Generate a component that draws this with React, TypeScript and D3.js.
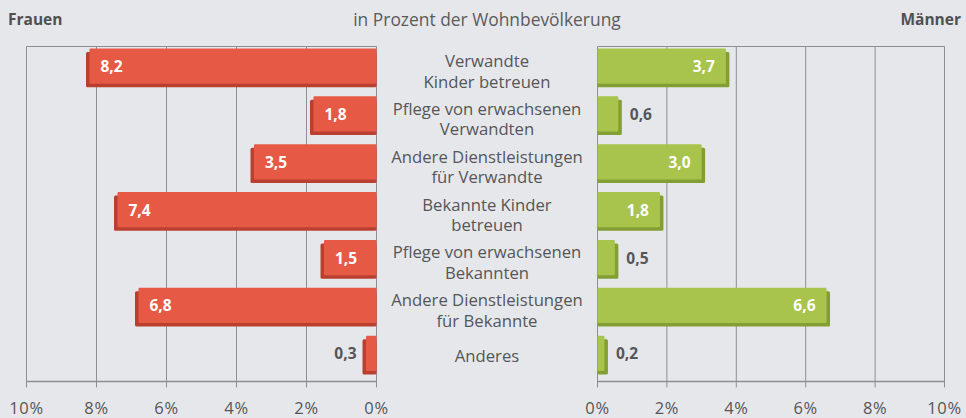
import React from "react";
import * as d3 from "d3";

const categories: string[][] = [
  ["Verwandte", "Kinder betreuen"],
  ["Pflege von erwachsenen", "Verwandten"],
  ["Andere Dienstleistungen", "für Verwandte"],
  ["Bekannte Kinder", "betreuen"],
  ["Pflege von erwachsenen", "Bekannten"],
  ["Andere Dienstleistungen", "für Bekannte"],
  ["Anderes"],
];
const frauen: number[] = [8.2, 1.8, 3.5, 7.4, 1.5, 6.8, 0.3];
const maenner: number[] = [3.7, 0.6, 3.0, 1.8, 0.5, 6.6, 0.2];
const ticks: number[] = [0, 2, 4, 6, 8, 10];
const title = "in Prozent der Wohnbevölkerung";
const leftTitle = "Frauen";
const rightTitle = "Männer";

const W = 966;
const H = 418;
const FONT = "'Open Sans', 'Noto Sans', sans-serif";
const TOP = 46.5;
const BOTTOM = 381.5;
const fmt = (v: number) => v.toFixed(1).replace(".", ",");

export default function App() {
  const xL = d3.scaleLinear().domain([0, 10]).range([376.5, 26.5]);
  const xR = d3.scaleLinear().domain([0, 10]).range([597.5, 944.5]);
  const y = d3
    .scaleBand<number>()
    .domain(d3.range(categories.length))
    .range([TOP, BOTTOM])
    .padding(0);
  const bw = y.bandwidth();
  const barTop = 2;
  const barH = bw * 0.81;
  const depth = 3.5;
  const grid = "#8e8f92";
  const red = "#e65a45";
  const redDark = "#b9402f";
  const green = "#a8c44c";
  const greenDark = "#839f34";
  const labelColor = "#555658";

  return (
    <svg
      width={W}
      height={H}
      style={{ position: "absolute", left: 0, top: 0, background: "#e6e7eb" }}
      fontFamily={FONT}
    >
      <rect x={0} y={0} width={W} height={H} fill="#e6e7eb" />
      {/* headers */}
      <text x={8} y={25} fontSize={15.5} fontWeight={700} fill="#4f5052">
        {leftTitle}
      </text>
      <text x={487} y={26} fontSize={17.4} fill="#5a5b5d" textAnchor="middle">
        {title}
      </text>
      <text x={961} y={25} fontSize={15.5} fontWeight={700} fill="#4f5052" textAnchor="end">
        {rightTitle}
      </text>

      {/* grids */}
      {[xL, xR].map((sc, si) => (
        <g key={"g" + si}>
          <line x1={sc(0)} x2={sc(10)} y1={TOP} y2={TOP} stroke={grid} strokeWidth={1} />
          {ticks.map((t) => (
            <line key={t} x1={sc(t)} x2={sc(t)} y1={TOP} y2={BOTTOM + 6} stroke={grid} strokeWidth={1} />
          ))}
          <line x1={sc(0)} x2={sc(10)} y1={BOTTOM} y2={BOTTOM} stroke={grid} strokeWidth={1.3} />
          {ticks.map((t) => (
            <text
              key={"t" + t}
              x={sc(t)}
              y={413.5}
              fontSize={16.5}
              fill={labelColor}
              textAnchor="middle"
              letterSpacing={0.6}
            >
              {t}%
            </text>
          ))}
        </g>
      ))}

      {/* women bars */}
      {frauen.map((v, i) => {
        const top = (y(i) as number) + barTop;
        const x0 = xL(0);
        const x1 = xL(v);
        const inside = v >= 1;
        return (
          <g key={"f" + i}>
            <rect x={x1 - depth} y={top + depth} width={x0 - x1 + depth} height={barH - depth} fill={redDark} rx={1.5} />
            <rect x={x1} y={top} width={x0 - x1} height={barH - depth} fill={red} rx={1} />
            <text
              x={inside ? x1 + 11 : x1 - depth - 6}
              y={top + (barH - depth) / 2 + 6}
              fontSize={15.5}
              fontWeight={700}
              fill={inside ? "#ffffff" : labelColor}
              textAnchor={inside ? "start" : "end"}
            >
              {fmt(v)}
            </text>
          </g>
        );
      })}

      {/* men bars */}
      {maenner.map((v, i) => {
        const top = (y(i) as number) + barTop;
        const x0 = xR(0);
        const x1 = xR(v);
        const inside = v >= 1;
        return (
          <g key={"m" + i}>
            <rect x={x0} y={top + depth} width={x1 - x0 + depth} height={barH - depth} fill={greenDark} rx={1.5} />
            <rect x={x0} y={top} width={x1 - x0} height={barH - depth} fill={green} rx={1} />
            <text
              x={inside ? x1 - 11 : x1 + depth + 8}
              y={top + (barH - depth) / 2 + 6}
              fontSize={15.5}
              fontWeight={700}
              fill={inside ? "#ffffff" : labelColor}
              textAnchor={inside ? "end" : "start"}
            >
              {fmt(v)}
            </text>
          </g>
        );
      })}

      {/* category labels */}
      {categories.map((lines, i) => {
        const b = y(i) as number;
        return (
          <text key={"c" + i} x={487} fontSize={16.7} fill={labelColor} textAnchor="middle">
            {lines.length === 1 ? (
              <tspan x={487} y={b + 28}>
                {lines[0]}
              </tspan>
            ) : (
              lines.map((l, k) => (
                <tspan key={k} x={487} y={b + 20.5 + k * 20.5}>
                  {l}
                </tspan>
              ))
            )}
          </text>
        );
      })}
    </svg>
  );
}
